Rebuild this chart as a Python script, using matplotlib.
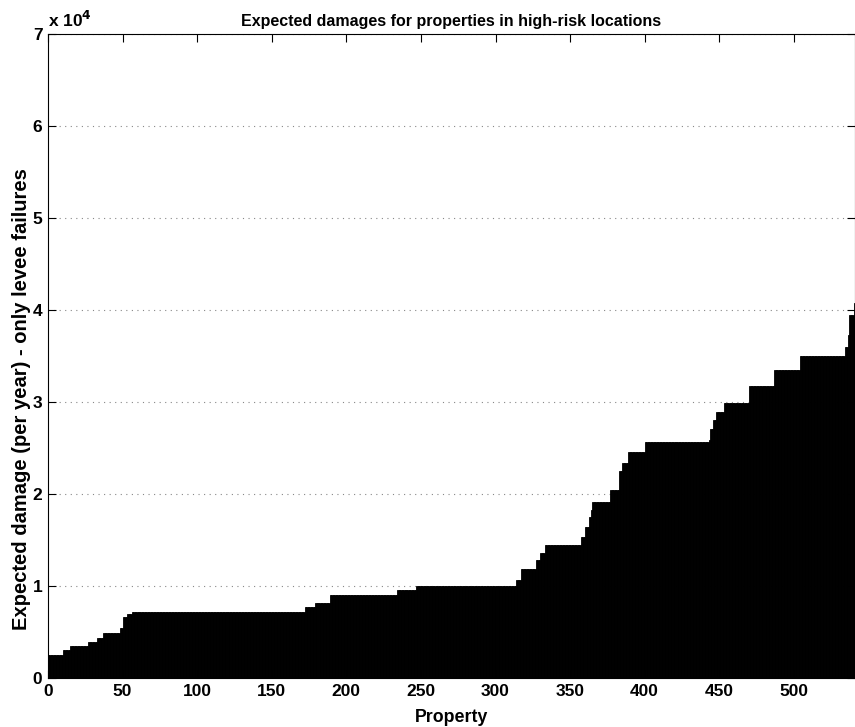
import matplotlib
matplotlib.use("Agg")
import matplotlib.pyplot as plt
from matplotlib.ticker import FuncFormatter
import numpy as np

# sorted expected damages, stored as (level, number of properties at that level)
levels = [2500, 3000, 3450, 3950, 4350, 4900, 5400, 6600, 6950, 7200,
          7750, 8150, 9000, 9550, 10050, 10650, 11800, 12800, 13600, 14450,
          15350, 16450, 17500, 18300, 19100, 20400, 22500, 23350, 24600, 25650,
          25900, 27100, 28050, 28950, 29850, 31700, 33500, 34950, 36000, 37300,
          39500, 40800]
counts = [10, 5, 12, 6, 4, 11, 2, 3, 3, 116,
          7, 10, 45, 13, 67, 3, 10, 3, 3, 24,
          3, 3, 1, 1, 12, 6, 2, 4, 11, 43,
          1, 2, 2, 5, 17, 17, 17, 30, 2, 1,
          3, 1]

damage = np.repeat(levels, counts)
prop = np.arange(len(damage))

plt.rcParams['font.family'] = ['Liberation Sans', 'DejaVu Sans']
plt.rcParams['font.weight'] = 'bold'

fig = plt.figure(figsize=(8.55, 7.27), dpi=100)
ax = fig.add_axes([48 / 855, 49 / 727, 1 - 48 / 855, 644 / 727])

ax.bar(prop, damage, width=1.0, align='edge', color='black', edgecolor='black', linewidth=0.6)

ax.set_xlim(0, len(damage))
ax.set_ylim(0, 70000)
ax.set_xticks(np.arange(0, 501, 50))
ax.set_yticks(np.arange(0, 70001, 10000))
ax.yaxis.set_major_formatter(FuncFormatter(lambda v, p: f"{v / 1e4:g}"))

ax.set_axisbelow(True)
ax.yaxis.grid(True, linestyle=(0, (1, 4)), color='#888888', linewidth=0.8)

ax.tick_params(direction='in', length=6, width=0.8, top=True, right=True,
               labelsize=12.5, pad=4)
for lbl in ax.get_xticklabels() + ax.get_yticklabels():
    lbl.set_fontweight('bold')
for s in ax.spines.values():
    s.set_linewidth(0.8)

ax.set_title('Expected damages for properties in high-risk locations',
             fontsize=11.5, fontweight='bold', pad=6)
ax.set_xlabel('Property', fontsize=12.8, fontweight='bold', labelpad=7.5)
ax.set_ylabel('Expected damage (per year) - only levee failures',
              fontsize=14.5, fontweight='bold')
ax.yaxis.set_label_coords(-17 / 807, 0.433)
ax.text(0.0, 1.006, r'x 10$^{\mathbf{4}}$', transform=ax.transAxes,
        fontsize=12.5, fontweight='bold', ha='left', va='bottom')

fig.savefig('out.png', dpi=100)
